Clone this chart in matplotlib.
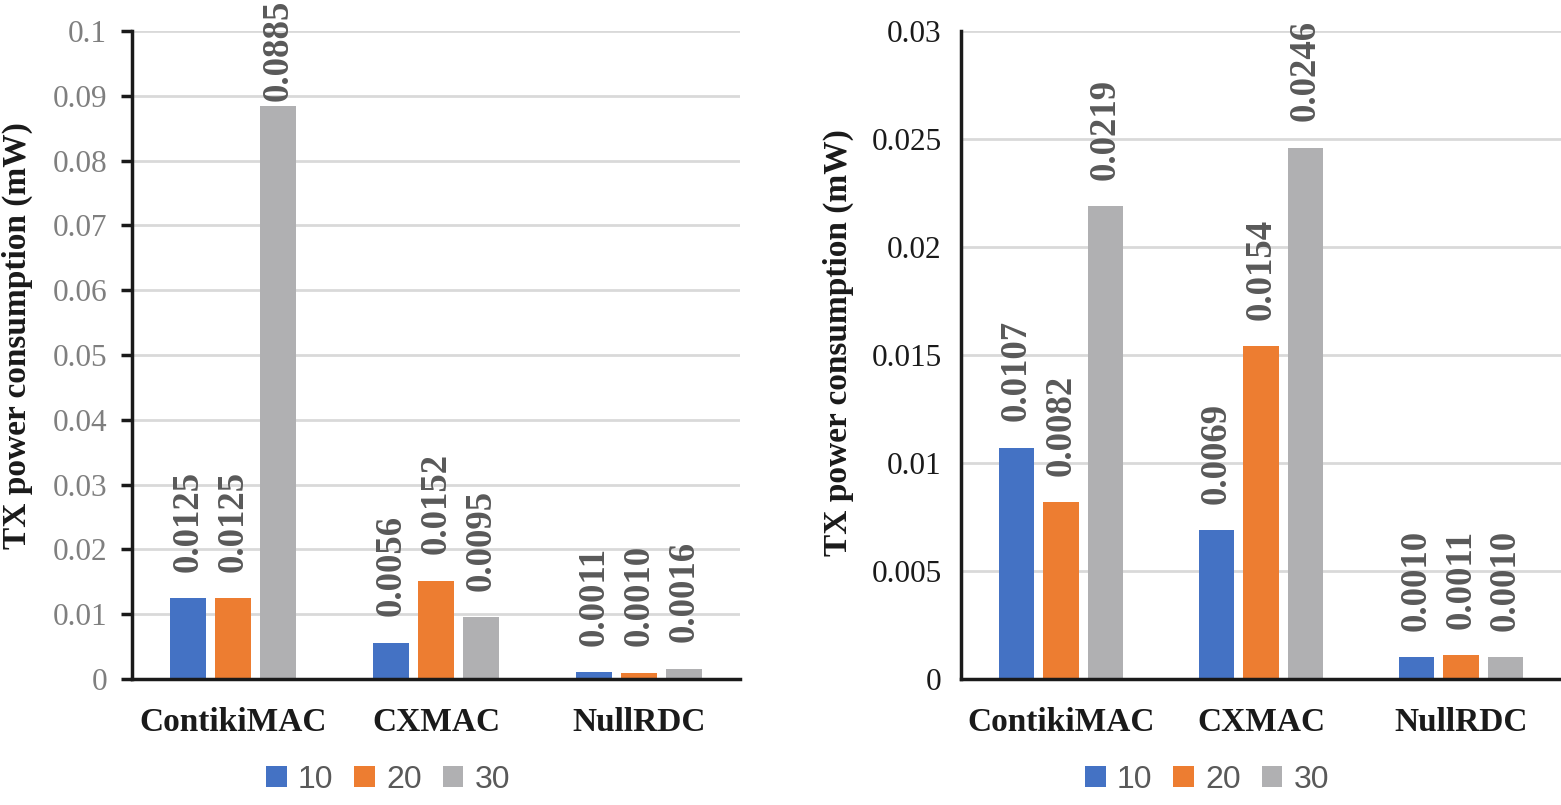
import numpy as np
import matplotlib.pyplot as plt
from matplotlib.patches import Patch

# data
categories = ["ContikiMAC", "CXMAC", "NullRDC"]
series = ["10", "20", "30"]
left_10 = [0.0125, 0.0056, 0.0011]
left_20 = [0.0125, 0.0152, 0.0010]
left_30 = [0.0885, 0.0095, 0.0016]
right_10 = [0.0107, 0.0069, 0.0010]
right_20 = [0.0082, 0.0154, 0.0011]
right_30 = [0.0219, 0.0246, 0.0010]

left_ticks = [0, 0.01, 0.02, 0.03, 0.04, 0.05, 0.06, 0.07, 0.08, 0.09, 0.1]
left_ticklabels = ["0", "0.01", "0.02", "0.03", "0.04", "0.05", "0.06", "0.07", "0.08", "0.09", "0.1"]
right_ticks = [0, 0.005, 0.01, 0.015, 0.02, 0.025, 0.03]
right_ticklabels = ["0", "0.005", "0.01", "0.015", "0.02", "0.025", "0.03"]

colors = ["#4472c4", "#ed7d31", "#b0b0b2"]
serif = "Liberation Serif"
sans = "Liberation Sans"

fig = plt.figure(figsize=(15.61, 8.05), dpi=100)
ax1 = fig.add_axes([0.0846, 0.1565, 0.3895, 0.805])
ax2 = fig.add_axes([0.6156, 0.1565, 0.3844, 0.805])

labels = []


def draw(ax, data, ticks, ticklabels, tick_color, show_ticks):
    x = np.arange(len(categories))
    step = 0.222
    width = 0.177
    for i, vals in enumerate(data):
        bars = ax.bar(x + (i - 1) * step, vals, width, color=colors[i], zorder=3)
        for b, v in zip(bars, vals):
            t = ax.annotate(f"{v:.4f}", (b.get_x() + b.get_width() / 2, v),
                            xytext=(0, 19), textcoords="offset points",
                            rotation=90, ha="center", va="bottom",
                            fontsize=26.5, fontweight="bold", family=serif,
                            color="#595959", annotation_clip=False)
            labels.append(t)
    ax.set_xlim(-0.5, 2.5)
    ax.set_ylim(0, ticks[-1])
    ax.set_yticks(ticks)
    ax.set_yticklabels(ticklabels, family=serif, fontsize=22.5, color=tick_color)
    ax.set_xticks(x)
    ax.set_xticklabels(categories, family=serif, fontsize=24, fontweight="bold", color="#1a1a1a")
    ax.tick_params(axis="x", length=0, pad=20)
    if show_ticks:
        ax.tick_params(axis="y", length=8, width=2.5, direction="out", pad=10, color="#1a1a1a")
    else:
        ax.tick_params(axis="y", length=0, pad=14)
    ax.grid(axis="y", color="#d9d9d9", linewidth=2, zorder=0)
    for s in ["top", "right"]:
        ax.spines[s].set_visible(False)
    for s in ["left", "bottom"]:
        ax.spines[s].set_linewidth(2.5)
        ax.spines[s].set_color("#1a1a1a")
        ax.spines[s].set_zorder(4)


draw(ax1, [left_10, left_20, left_30], left_ticks, left_ticklabels, "#7f7f7f", True)
draw(ax2, [right_10, right_20, right_30], right_ticks, right_ticklabels, "#1a1a1a", False)

fig.text(17 / 1561, 1 - 336 / 805, "TX power consumption (mW)", rotation=90,
         ha="center", va="center", family=serif, fontsize=24, fontweight="bold", color="#1a1a1a")
fig.text(838 / 1561, 1 - 343 / 805, "TX power consumption (mW)", rotation=90,
         ha="center", va="center", family=serif, fontsize=24, fontweight="bold", color="#1a1a1a")

handles = [Patch(facecolor=c, label=s) for c, s in zip(colors, series)]
for cx in [388 / 1561, 1207 / 1561]:
    fig.legend(handles=handles, loc="center", bbox_to_anchor=(cx, 1 - 780 / 805),
               ncol=3, frameon=False, prop={"family": sans, "size": 23},
               labelcolor="#595959", handlelength=0.65, handleheight=0.65,
               handletextpad=0.35, columnspacing=0.65)

# keep labels inside the figure, like the chart tool does
fig.canvas.draw()
renderer = fig.canvas.get_renderer()
H = fig.bbox.height
for t in labels:
    bb = t.get_window_extent(renderer)
    if bb.y1 > H:
        off = t.xyann
        t.xyann = (off[0], off[1] - (bb.y1 - H) * 72 / fig.dpi)

fig.savefig("out.png", dpi=100)
